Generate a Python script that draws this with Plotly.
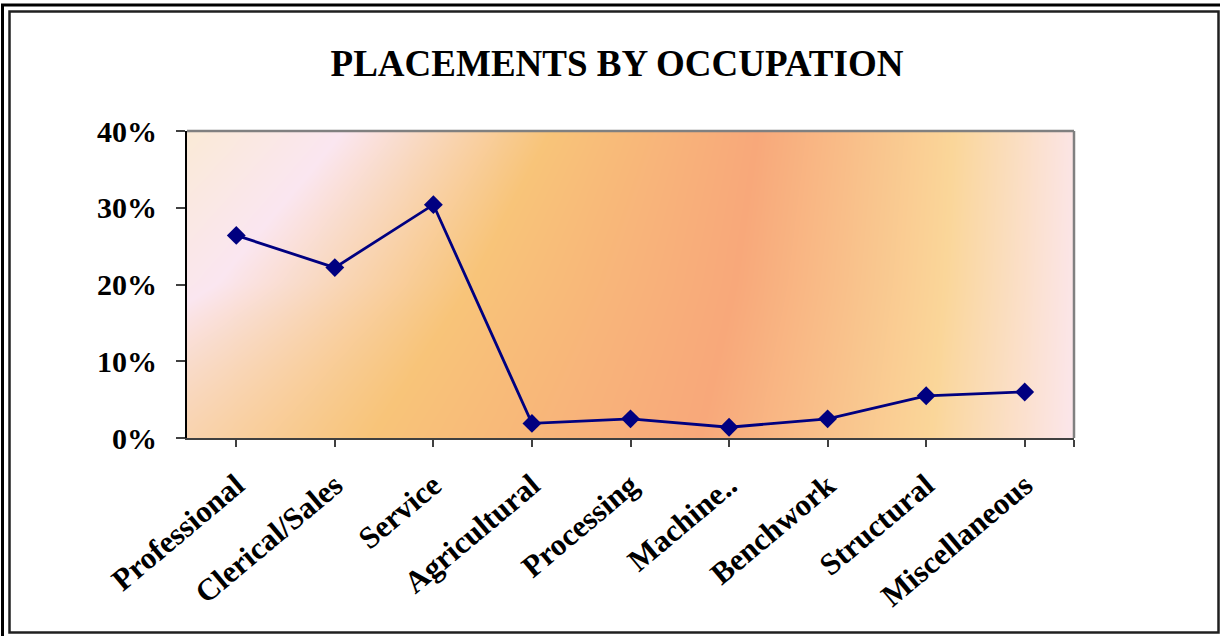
import numpy as np
import plotly.graph_objects as go

# ---------------- data ----------------
categories = ["Professional", "Clerical/Sales", "Service", "Agricultural",
              "Processing", "Machine..", "Benchwork", "Structural", "Miscellaneous"]
placements = [0.264, 0.222, 0.304, 0.019, 0.025, 0.014, 0.025, 0.055, 0.060]
y_ticks = [0.0, 0.1, 0.2, 0.3, 0.4]

# ---------------- layout geometry ----------------
W, H = 1220, 636
L, R, T, B = 187, 146, 131, 198
PW, PH = W - L - R, H - T - B


def px_x(p):
    return (p - L) / PW


def px_y(p):
    return 1 - (p - T) / PH


idx = list(range(len(categories)))
x_lo, x_hi = -0.5, len(categories) - 0.5

# ---------------- background gradient (style only) ----------------
grad_colors = ["#FAEBD0", "#FAE6F0", "#F8C479", "#F8A87A", "#FAD699", "#FBE6EC"]
band_rows = [0.0, 0.5, 1.0]  # 0 = top of plot, 1 = bottom
band_stops = [
    [150, 343, 550, 757, 953, 1085],
    [0, 215, 470, 735, 945, 1080],
    [-250, -40, 370, 700, 930, 1075],
]
ncol, nrow = 300, 60
cols_px = np.linspace(L, L + PW, ncol)
rows_t = np.linspace(0, 1, nrow)
bs = np.array(band_stops, dtype=float)
z = np.zeros((nrow, ncol))
for i, t in enumerate(rows_t):
    st = [np.interp(t, band_rows, bs[:, k]) for k in range(bs.shape[1])]
    z[i] = np.interp(cols_px, st, np.arange(len(st))) / (len(st) - 1)
z = z[::-1]  # first row = bottom
hx = x_lo + (cols_px - L) / PW * (x_hi - x_lo)
hy = np.linspace(0, 0.4, nrow)
cscale = [[k / (len(grad_colors) - 1), c] for k, c in enumerate(grad_colors)]

fig = go.Figure()
fig.add_trace(go.Heatmap(x=hx, y=hy, z=z, colorscale=cscale, zmin=0, zmax=1,
                         showscale=False, hoverinfo="skip", zsmooth="best"))
fig.add_trace(go.Scatter(x=idx, y=placements, mode="lines+markers",
                         line=dict(color="#000080", width=2.8),
                         marker=dict(symbol="diamond", size=14.5, color="#000080"),
                         showlegend=False))

font_fam = "Liberation Serif, Times New Roman, serif"

fig.update_layout(
    width=W, height=H,
    margin=dict(l=L, r=R, t=T, b=B, autoexpand=False),
    paper_bgcolor="white", plot_bgcolor="white",
    title=dict(text="PLACEMENTS BY OCCUPATION", x=617 / W, xanchor="center",
               y=1 - 63 / H, yanchor="middle",
               font=dict(family=font_fam, size=37, color="black", weight="bold")),
    showlegend=False,
    xaxis=dict(range=[x_lo, x_hi], tickmode="array",
               tickvals=idx + [x_hi], ticktext=categories + [""],
               tickangle=-40, ticks="outside", ticklen=7, tickwidth=1.5,
               tickcolor="#404040",
               showline=True, linecolor="#404040", linewidth=2,
               showgrid=False, zeroline=False, ticklabelstandoff=8,
               tickfont=dict(family=font_fam, size=31, color="black", weight="bold")),
    yaxis=dict(range=[0, 0.4], tickmode="array", tickvals=y_ticks,
               tickformat=".0%", ticks="outside", ticklen=9, tickwidth=1.5,
               tickcolor="#404040",
               showline=True, linecolor="black", linewidth=2,
               showgrid=False, zeroline=False, ticklabelstandoff=13,
               tickfont=dict(family=font_fam, size=30, color="black", weight="bold")),
)

shapes = []
# gray top & right plot borders
shapes.append(dict(type="line", xref="paper", yref="paper", x0=0, x1=1, y0=1, y1=1,
                   line=dict(color="#808080", width=2.5)))
shapes.append(dict(type="line", xref="paper", yref="paper", x0=1, x1=1, y0=0, y1=1,
                   line=dict(color="#808080", width=2.5)))
# outer page frame (double line)
shapes.append(dict(type="rect", xref="paper", yref="paper",
                   x0=px_x(2.5), x1=px_x(1226), y0=px_y(640), y1=px_y(5),
                   line=dict(color="black", width=3)))
shapes.append(dict(type="rect", xref="paper", yref="paper",
                   x0=px_x(9.5), x1=px_x(1218.5), y0=px_y(632.5), y1=px_y(11.5),
                   line=dict(color="#202020", width=2.5)))
fig.update_layout(shapes=shapes)

fig.write_html("out.html", config={"displayModeBar": False},
               post_script="document.body.style.margin='0';document.body.style.overflow='hidden';")
